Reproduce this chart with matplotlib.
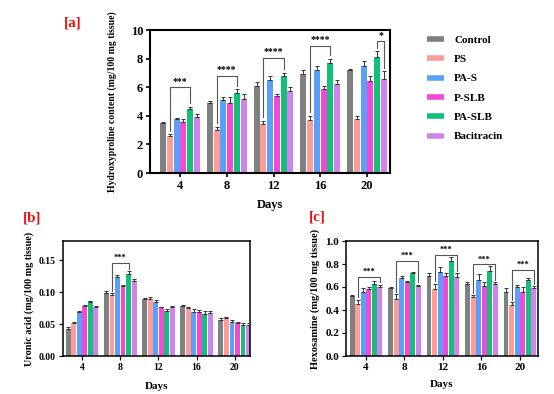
import matplotlib
matplotlib.use("Agg")
import matplotlib.pyplot as plt
from matplotlib.lines import Line2D
import numpy as np

plt.rcParams['font.family'] = ['Liberation Serif', 'DejaVu Serif']
plt.rcParams['font.weight'] = 'bold'

days = ['4', '8', '12', '16', '20']
groups = ['Control', 'PS', 'PA-S', 'P-SLB', 'PA-SLB', 'Bacitracin']
colors = ['#808080', '#FF9C97', '#5A9FF8', '#F04AD6', '#12C07A', '#D282EC']

# Panel a: Hydroxyproline (rows = groups, cols = days)
hyp = [
    [3.5, 4.9, 6.1, 6.9, 7.2],
    [2.6, 3.0, 3.4, 3.7, 3.8],
    [3.8, 5.1, 6.5, 7.2, 7.5],
    [3.6, 4.9, 5.4, 5.9, 6.4],
    [4.5, 5.6, 6.8, 7.7, 8.1],
    [3.9, 5.2, 5.7, 6.2, 6.6],
]
hyp_err = [
    [0.10, 0.15, 0.25, 0.30, 0.10],
    [0.10, 0.25, 0.25, 0.30, 0.20],
    [0.08, 0.20, 0.25, 0.30, 0.30],
    [0.20, 0.40, 0.10, 0.20, 0.40],
    [0.15, 0.25, 0.20, 0.30, 0.40],
    [0.25, 0.30, 0.30, 0.30, 0.50],
]
# Panel b: Uronic acid
uro = [
    [0.042, 0.098, 0.089, 0.079, 0.056],
    [0.051, 0.095, 0.090, 0.075, 0.059],
    [0.069, 0.124, 0.084, 0.069, 0.054],
    [0.078, 0.109, 0.076, 0.069, 0.051],
    [0.085, 0.129, 0.071, 0.065, 0.048],
    [0.077, 0.118, 0.076, 0.068, 0.048],
]
uro_err = [
    [0.003, 0.004, 0.002, 0.001, 0.003],
    [0.002, 0.004, 0.002, 0.002, 0.002],
    [0.002, 0.003, 0.003, 0.004, 0.003],
    [0.002, 0.002, 0.001, 0.003, 0.003],
    [0.001, 0.004, 0.002, 0.006, 0.004],
    [0.002, 0.003, 0.002, 0.003, 0.003],
]
# Panel c: Hexosamine
hexo = [
    [0.52, 0.59, 0.70, 0.63, 0.56],
    [0.45, 0.50, 0.58, 0.51, 0.44],
    [0.56, 0.68, 0.73, 0.66, 0.60],
    [0.58, 0.64, 0.70, 0.61, 0.56],
    [0.63, 0.72, 0.83, 0.74, 0.66],
    [0.60, 0.61, 0.69, 0.63, 0.59],
]
hexo_err = [
    [0.01, 0.01, 0.02, 0.01, 0.03],
    [0.04, 0.04, 0.05, 0.02, 0.03],
    [0.03, 0.02, 0.04, 0.05, 0.02],
    [0.02, 0.01, 0.02, 0.03, 0.04],
    [0.02, 0.01, 0.03, 0.04, 0.02],
    [0.02, 0.01, 0.03, 0.01, 0.02],
]

# significance brackets: (day index, left group, right group, top y, label)
sig_a = [(0, 1, 4, 6.0, '***'), (1, 1, 4, 6.8, '****'), (2, 1, 4, 8.05, '****'),
         (3, 1, 4, 8.9, '****'), (4, 4, 5, 9.2, '*')]
sig_b = [(1, 1, 4, 0.146, '***')]
sig_c = [(0, 1, 5, 0.685, '***'), (1, 1, 5, 0.825, '***'), (2, 1, 5, 0.877, '***'),
         (3, 1, 5, 0.796, '***'), (4, 1, 5, 0.744, '***')]

W, H = 554, 394
fig = plt.figure(figsize=(W / 100, H / 100), dpi=100)


def px_axes(l, r, t, b):
    return fig.add_axes([l / W, 1 - b / H, (r - l) / W, (b - t) / H])


step = 0.145
bw = 0.128


def draw(ax, vals, errs, sigs, ylim, yticks, ytl, xlim, fs, lw, ylabel, star_fs, star_gap, gap):
    x = np.arange(len(days))
    for i, g in enumerate(groups):
        off = (i - 2.5) * step
        v = np.array(vals[i])
        e = np.array(errs[i])
        ax.bar(x + off, v, width=bw, color=colors[i], zorder=2)
        ax.errorbar(x + off, v, yerr=[np.zeros_like(e), e], fmt='none', ecolor='#333333',
                    elinewidth=0.7, capsize=1.3, capthick=0.7, zorder=3)
    for d, gl, gr, top, lab in sigs:
        xl = d + (gl - 2.5) * step
        xr = d + (gr - 2.5) * step
        yl = vals[gl][d] + errs[gl][d] + gap
        yr = vals[gr][d] + errs[gr][d] + gap
        ax.plot([xl, xl, xr, xr], [yl, top, top, yr], color='#555555', lw=0.8, zorder=4)
        ax.text((xl + xr) / 2, top + star_gap, lab, ha='center', va='bottom',
                fontsize=star_fs, fontweight='bold', color='black')
    ax.set_xlim(*xlim)
    ax.set_ylim(*ylim)
    ax.set_xticks(x)
    ax.set_xticklabels(days, fontsize=fs, fontweight='bold')
    ax.set_yticks(yticks)
    ax.set_yticklabels(ytl, fontsize=fs, fontweight='bold')
    for s in ax.spines.values():
        s.set_linewidth(lw)
    ax.tick_params(axis='both', direction='out', length=3, width=lw * 0.8, pad=2)
    ax.set_xlabel('Days', fontsize=fs, fontweight='bold')
    ax.set_ylabel(ylabel, fontsize=fs * 0.85, fontweight='bold')


ax_a = px_axes(150, 390, 30, 173)
draw(ax_a, hyp, hyp_err, sig_a, (0, 10), [0, 2, 4, 6, 8, 10], ['0', '2', '4', '6', '8', '10'],
     (-0.64, 4.49), 9, 1.5, 'Hydroxyproline content (mg/100 mg tissue)', 7, 0.1, 0.25)
ax_a.xaxis.labelpad = 5
ax_a.yaxis.labelpad = 10
ax_a.yaxis.label.set_size(7)

ax_b = px_axes(63, 250, 241, 356)
draw(ax_b, uro, uro_err, sig_b, (0, 0.18), [0, 0.05, 0.10, 0.15], ['0.00', '0.05', '0.10', '0.15'],
     (-0.5, 4.4), 7, 1.1, 'Uronic acid (mg/100 mg tissue)', 6, 0.002, 0.003)
ax_b.xaxis.labelpad = 7
ax_b.xaxis.label.set_size(8)
ax_b.yaxis.label.set_size(7.3)

ax_c = px_axes(346, 538, 241, 356)
draw(ax_c, hexo, hexo_err, sig_c, (0, 1.0), [0, 0.2, 0.4, 0.6, 0.8, 1.0],
     ['0.0', '0.2', '0.4', '0.6', '0.8', '1.0'],
     (-0.52, 4.47), 8, 1.1, 'Hexosamine (mg/100 mg tissue)', 6, 0.01, 0.02)
ax_c.xaxis.labelpad = 6
ax_c.xaxis.label.set_size(8)
ax_c.yaxis.label.set_size(7.5)

fig.text(73 / W, 1 - 23 / H, '[a]', color='#EE1111', fontsize=11, fontweight='bold', ha='center', va='center')
fig.text(32 / W, 1 - 218 / H, '[b]', color='#EE1111', fontsize=11, fontweight='bold', ha='center', va='center')
fig.text(317 / W, 1 - 217 / H, '[c]', color='#EE1111', fontsize=11, fontweight='bold', ha='center', va='center')

handles = [Line2D([0], [0], color=c, lw=4, solid_capstyle='butt') for c in colors]
fig.legend(handles, groups, loc='upper left', bbox_to_anchor=(427 / W, 1 - 35 / H),
           frameon=False, handlelength=1.5, handletextpad=0.95,
           labelspacing=0.86, borderpad=0, borderaxespad=0,
           prop={'weight': 'bold', 'size': 8})

fig.savefig('out.png', dpi=100)
